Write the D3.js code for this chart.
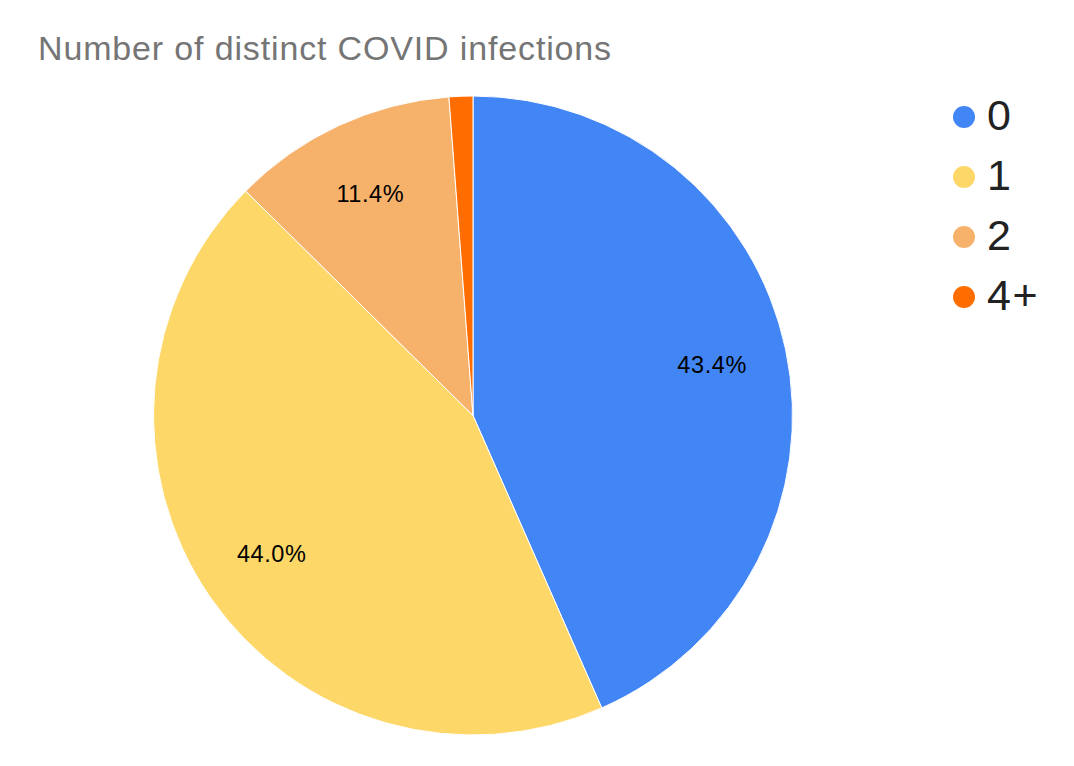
<!DOCTYPE html>
<html>
<head>
<meta charset="utf-8">
<script src="https://cdn.jsdelivr.net/npm/d3@7"></script>
<style>
  html, body { margin: 0; padding: 0; background: #fff; }
  svg { display: block; }
</style>
</head>
<body>
<svg id="chart" width="1074" height="766"></svg>
<script>
const categories = ["0", "1", "2", "4+"];
const values = [43.4, 44.0, 11.4, 1.2];
const labels = ["43.4%", "44.0%", "11.4%", ""];
const colors = ["#4285F4", "#FDD868", "#F6B26B", "#FF6D01"];

const svg = d3.select("#chart");
const cx = 473, cy = 415.5, R = 319.5;
const font = "'Liberation Sans', Arial, sans-serif";

svg.append("text")
  .attr("x", 38).attr("y", 60)
  .attr("font-family", font)
  .attr("font-size", 34)
  .attr("letter-spacing", 0.85)
  .attr("fill", "#757575")
  .text("Number of distinct COVID infections");

const data = categories.map((c, i) => ({ cat: c, value: values[i], label: labels[i], color: colors[i] }));

const pie = d3.pie().value(d => d.value).sort(null);
const arc = d3.arc().innerRadius(0).outerRadius(R);
const labelArc = d3.arc().innerRadius(R * 0.765).outerRadius(R * 0.765);

const g = svg.append("g").attr("transform", `translate(${cx},${cy})`);
const arcs = pie(data);

g.selectAll("path").data(arcs).join("path")
  .attr("d", arc)
  .attr("fill", d => d.data.color)
  .attr("stroke", "#fff")
  .attr("stroke-width", 1);

g.selectAll("text.lbl").data(arcs.filter(d => d.data.label)).join("text")
  .attr("class", "lbl")
  .attr("transform", d => `translate(${labelArc.centroid(d)})`)
  .attr("text-anchor", "middle")
  .attr("dy", "0.35em")
  .attr("font-family", font)
  .attr("font-size", 23.5)
  .attr("letter-spacing", 0.6)
  .attr("fill", "#000")
  .text(d => d.data.label);

const legendY = d3.scalePoint().domain(categories).range([117, 297]);
const lg = svg.append("g");
const items = lg.selectAll("g").data(data).join("g")
  .attr("transform", d => `translate(964,${legendY(d.cat)})`);
items.append("circle").attr("r", 11).attr("fill", d => d.color);
items.append("text")
  .attr("x", 23).attr("dy", "0.3em")
  .attr("font-family", font)
  .attr("font-size", 43)
  .attr("letter-spacing", 1.5)
  .attr("fill", "#222")
  .text(d => d.cat);
</script>
</body>
</html>
